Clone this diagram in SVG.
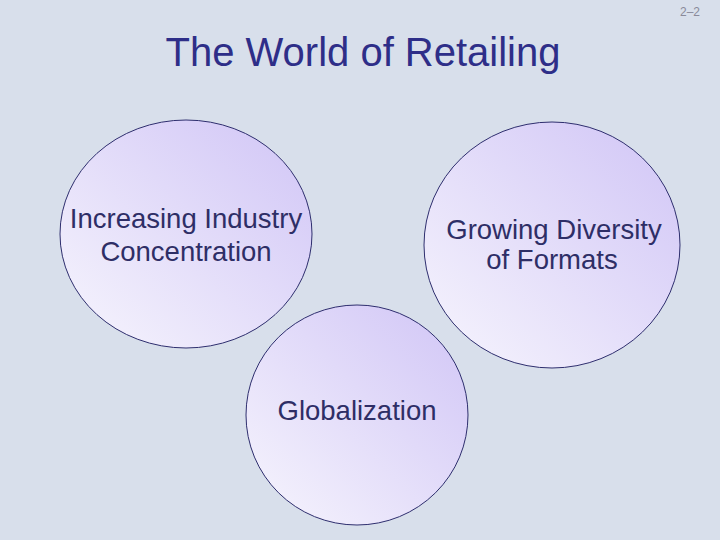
<svg xmlns="http://www.w3.org/2000/svg" width="720" height="540" viewBox="0 0 720 540">
<style>
.lbl{font-family:"Liberation Sans",Arial,sans-serif;font-size:27.5px;fill:#2e2e66;text-anchor:middle}
.c{fill:url(#g);stroke:#2e2e6e;stroke-width:1}
</style>
<defs>
<linearGradient id="g" x1="0.15" y1="0.85" x2="0.85" y2="0.15">
<stop offset="0" stop-color="#f1eefc"/>
<stop offset="1" stop-color="#d6ccf7"/>
</linearGradient>
</defs>
<rect width="720" height="540" fill="#d8dfeb"/>
<text x="700" y="16" font-family="Liberation Sans,Arial,sans-serif" font-size="12" fill="#8a8a9a" text-anchor="end">2–2</text>
<text x="363" y="66" font-family="Liberation Sans,Arial,sans-serif" font-size="40" fill="#2e2e88" text-anchor="middle">The World of Retailing</text>
<g id="concentration">
<ellipse class="c" cx="186" cy="234" rx="126" ry="114"/>
<text class="lbl" x="186" y="228">Increasing Industry</text>
<text class="lbl" x="186" y="261">Concentration</text>
</g>
<g id="diversity">
<ellipse class="c" cx="552" cy="245" rx="128" ry="123" stroke-width="1.5"/>
<text class="lbl" x="554" y="239">Growing Diversity</text>
<text class="lbl" x="552" y="269">of Formats</text>
</g>
<g id="globalization">
<ellipse class="c" cx="357" cy="415" rx="111" ry="110"/>
<text class="lbl" x="357" y="420">Globalization</text>
</g>
<g id="connectors"/>
</svg>
